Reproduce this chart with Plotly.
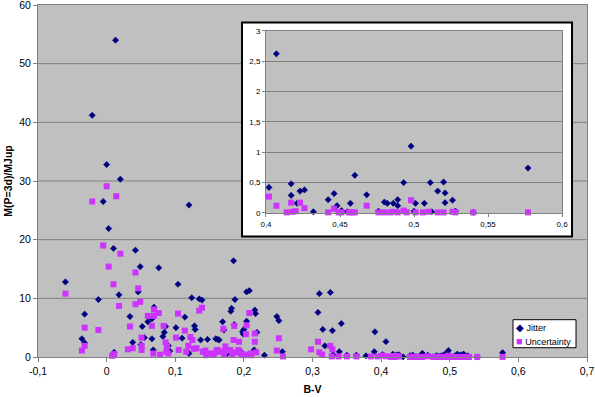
import plotly.graph_objects as go

# ---------------- data ----------------
bv_jitter = [0.013, -0.021, 0.000, 0.020, -0.005, 0.120, 0.003, 0.010, 0.042, 0.049,
             0.076, 0.185, -0.060, 0.104, 0.046, 0.018, -0.012, 0.124, 0.135, 0.139,
             0.204, 0.208, 0.187, 0.310, 0.326, 0.069, 0.182, 0.181, 0.216, 0.217,
             0.308, -0.032, 0.034, 0.114, 0.066, 0.248, 0.251, 0.060, 0.169, 0.204,
             0.342, 0.186, 0.052, 0.086, 0.101, 0.128, 0.129, 0.171, 0.200, 0.315,
             0.329, 0.391, 0.084, 0.198, 0.219, 0.082, 0.055, 0.110, -0.036, 0.066,
             0.147, 0.159, 0.162, 0.164, 0.137, 0.199, -0.032, 0.038, 0.050, 0.090,
             0.318, 0.068, 0.011, 0.256, 0.339, 0.390, 0.145, 0.175, 0.195, 0.215,
             0.230, 0.330, 0.350, 0.364, 0.378, 0.092, 0.120,
             0.407, 0.498, 0.577, 0.460, 0.402, 0.417, 0.493, 0.511, 0.520, 0.417,
             0.423, 0.426, 0.446, 0.442, 0.468, 0.457, 0.448, 0.421, 0.480, 0.482,
             0.486, 0.489, 0.489, 0.501, 0.516, 0.521, 0.507, 0.521, 0.526, 0.451,
             0.500, 0.528, 0.540, 0.432, 0.455, 0.476, 0.512]
m_jitter = [54.0, 41.2, 32.8, 30.3, 26.5, 25.9, 21.9, 18.5, 18.2, 15.4,
            15.2, 16.4, 12.8, 12.4, 11.1, 10.6, 9.8, 10.1, 9.9, 9.7,
            11.1, 11.3, 9.8, 10.8, 11.0, 8.5, 8.3, 7.8, 8.0, 7.4,
            7.6, 7.3, 6.9, 6.8, 6.5, 6.9, 6.2, 6.0, 6.0, 6.1,
            5.7, 5.5, 5.2, 5.2, 5.0, 5.3, 4.7, 4.6, 4.7, 4.7,
            4.5, 4.3, 4.2, 4.3, 4.2, 3.5, 3.3, 3.2, 3.1, 3.1,
            3.0, 3.1, 3.0, 2.9, 2.9, 3.9, 2.4, 2.5, 2.1, 1.9,
            1.9, 1.2, 0.8, 0.9, 0.9, 0.9, 0.8, 0.5, 1.0, 1.2,
            0.3, 0.4, 0.3, 0.3, 0.2, 1.0, 0.6,
            2.62, 1.10, 0.74, 0.62, 0.42, 0.48, 0.50, 0.50, 0.51, 0.29,
            0.36, 0.38, 0.32, 0.22, 0.30, 0.16, 0.12, 0.16, 0.18, 0.16,
            0.16, 0.22, 0.12, 0.16, 0.36, 0.33, 0.16, 0.17, 0.21, 0.04,
            0.03, 0.03, 0.01, 0.02, 0.02, 0.03, 0.02]

bv_unc = [0.000, 0.014, -0.021, -0.005, 0.020, 0.003, 0.042, 0.010, 0.046, -0.060,
          0.049, 0.042, 0.018, 0.069, 0.135, 0.139, 0.076, 0.104, 0.208, 0.060,
          0.069, 0.034, 0.066, 0.083, 0.186, 0.204, -0.032, 0.170, -0.012, 0.114,
          0.216, 0.203, 0.122, 0.051, 0.101, 0.251, 0.125, 0.185, 0.086, 0.193,
          0.216, 0.308, -0.032, 0.051, 0.088, 0.119, 0.173, 0.326, 0.038, 0.131,
          0.127, 0.031, 0.298, 0.329, -0.036, 0.051, 0.105, 0.144, 0.160, 0.162,
          0.180, 0.192, 0.248, 0.116, 0.173, 0.310, 0.068, 0.090, 0.011, 0.186,
          0.194, 0.008, 0.145, 0.203, 0.210, 0.218, 0.314, 0.257, 0.328, 0.338,
          0.350, 0.364, 0.385, 0.395, 0.155, 0.165, 0.078, 0.087, 0.150, 0.200,
          0.197, 0.183, 0.171, 0.157, 0.140, 0.211,
          0.402, 0.407, 0.417, 0.423, 0.426, 0.420, 0.468, 0.498, 0.446, 0.442,
          0.449, 0.451, 0.456, 0.458, 0.460, 0.476, 0.480, 0.484, 0.486, 0.489,
          0.493, 0.495, 0.501, 0.506, 0.510, 0.516, 0.520, 0.526, 0.528, 0.540,
          0.577, 0.414, 0.418]
m_unc = [29.1, 27.4, 26.5, 19.0, 17.6, 15.4, 14.4, 12.4, 11.7, 10.8,
         9.4, 9.0, 8.7, 8.1, 7.9, 8.4, 7.5, 7.4, 7.5, 7.0,
         7.0, 5.2, 5.3, 5.3, 5.3, 5.4, 5.0, 4.8, 4.6, 4.5,
         4.0, 3.9, 3.4, 3.3, 3.3, 3.2, 2.9, 2.9, 2.5, 2.6,
         2.6, 2.6, 1.9, 1.9, 1.8, 1.9, 1.8, 1.9, 1.5, 1.5,
         1.4, 1.3, 1.3, 1.3, 1.1, 1.2, 1.2, 1.1, 1.1, 1.2,
         1.2, 1.2, 1.1, 0.9, 1.0, 0.8, 0.6, 0.6, 0.5, 0.8,
         0.7, 0.2, 0.3, 0.4, 0.6, 0.8, 0.4, 0.1, 0.1, 0.1,
         0.1, 0.1, 0.1, 0.1, 0.5, 0.9, 0.4, 0.9, 0.6, 0.3,
         0.4, 0.4, 0.4, 0.6, 0.9, 0.3,
         0.27, 0.12, 0.17, 0.17, 0.08, 0.03, 0.12, 0.21, 0.07, 0.01,
         0.01, 0.01, 0.01, 0.01, 0.01, 0.01, 0.01, 0.01, 0.02, 0.01,
         0.04, 0.01, 0.01, 0.01, 0.02, 0.01, 0.01, 0.02, 0.01, 0.01,
         0.01, 0.01, 0.02]

series_names = ["Jitter", "Uncertainty"]
x_tick_vals = [-0.1, 0.0, 0.1, 0.2, 0.3, 0.4, 0.5, 0.6, 0.7]
x_tick_text = ["-0,1", "0", "0,1", "0,2", "0,3", "0,4", "0,5", "0,6", "0,7"]
y_tick_vals = [0, 10, 20, 30, 40, 50, 60]
inset_x_vals = [0.4, 0.45, 0.5, 0.55, 0.6]
inset_x_text = ["0,4", "0,45", "0,5", "0,55", "0,6"]
inset_y_vals = [0, 0.5, 1, 1.5, 2, 2.5, 3]
inset_y_text = ["0", "0,5", "1", "1,5", "2", "2,5", "3"]
inset_x_range = [0.4, 0.6]
inset_y_range = [0, 3]

JIT_COLOR = "#000080"
UNC_COLOR = "#CC33FF"
FONT = "Liberation Sans, Arial, sans-serif"
GRID = "#808080"


def in_inset(xs, ys):
    pts = [(a, b) for a, b in zip(xs, ys)
           if inset_x_range[0] <= a <= inset_x_range[1] and inset_y_range[0] <= b <= inset_y_range[1]]
    return [p[0] for p in pts], [p[1] for p in pts]


fig = go.Figure()

jit_marker = dict(symbol="diamond", size=4.8, color=JIT_COLOR, line=dict(width=0.6, color=JIT_COLOR))
unc_marker = dict(symbol="square", size=6, color=UNC_COLOR, line=dict(width=0))

# main chart
fig.add_trace(go.Scatter(x=bv_jitter, y=m_jitter, mode="markers", name=series_names[0],
                         marker=jit_marker, cliponaxis=False, xaxis="x", yaxis="y"))
fig.add_trace(go.Scatter(x=bv_unc, y=m_unc, mode="markers", name=series_names[1],
                         marker=unc_marker, cliponaxis=False, xaxis="x", yaxis="y"))

# inset (zoom on 0.4-0.6)
ix, iy = in_inset(bv_jitter, m_jitter)
fig.add_trace(go.Scatter(x=ix, y=iy, mode="markers", name=series_names[0],
                         marker=jit_marker, cliponaxis=False, xaxis="x2", yaxis="y2"))
ux, uy = in_inset(bv_unc, m_unc)
fig.add_trace(go.Scatter(x=ux, y=uy, mode="markers", name=series_names[1],
                         marker=unc_marker, cliponaxis=False, xaxis="x2", yaxis="y2"))

# main horizontal gridlines (as lower shapes so the inset frame can cover them)
shapes = []
for v in y_tick_vals[1:-1]:
    shapes.append(dict(type="line", xref="paper", yref="y", x0=0, x1=1, y0=v, y1=v,
                       line=dict(color=GRID, width=1), layer="below"))
# inset white frame
shapes.append(dict(type="rect", xref="paper", yref="paper",
                   x0=0.3716, x1=0.9727, y0=0.3426, y1=0.9506,
                   fillcolor="white", line=dict(color="black", width=2), layer="below"))
# legend box
shapes.append(dict(type="rect", xref="paper", yref="paper",
                   x0=0.8652, x1=0.980, y0=0.0264, y1=0.106,
                   fillcolor="white", line=dict(color="black", width=1), layer="above"))

annotations = [
    dict(xref="paper", yref="paper", x=0.8670, y=0.0840, xanchor="left", yanchor="middle",
         showarrow=False, font=dict(size=9, family=FONT, color="black"),
         text=f"<span style='color:{JIT_COLOR};font-size:10px'>◆</span> {series_names[0]}"),
    dict(xref="paper", yref="paper", x=0.8670, y=0.0450, xanchor="left", yanchor="middle",
         showarrow=False, font=dict(size=9, family=FONT, color="black"),
         text=f"<span style='color:{UNC_COLOR};font-size:11px'>■</span> {series_names[1]}"),
]

axis_common = dict(showline=True, mirror=True, linecolor=GRID, linewidth=1,
                   ticks="outside", tickcolor=GRID, zeroline=False, automargin=False,
                   ticklabeloverflow="allow")

fig.update_layout(
    width=595, height=397,
    margin=dict(l=38, r=8, t=5, b=40, autoexpand=False),
    paper_bgcolor="white",
    plot_bgcolor="#C0C0C0",
    font=dict(family=FONT, color="black", size=10),
    shapes=shapes,
    annotations=annotations,
    showlegend=False,
    xaxis=dict(domain=[0, 1], range=[-0.1, 0.7], tickvals=x_tick_vals, ticktext=x_tick_text,
               showgrid=False, ticklen=4, tickfont=dict(size=10.5),
               title=dict(text="<b>B-V</b>", font=dict(size=10.5), standoff=10),
               **axis_common),
    yaxis=dict(domain=[0, 1], range=[0, 60], tickvals=y_tick_vals,
               showgrid=False, ticklen=4, tickfont=dict(size=10.5),
               title=dict(text="<b>M(P=3d)/MJup</b>", font=dict(size=10.5), standoff=4),
               **axis_common),
    xaxis2=dict(domain=[0.4153, 0.9545], anchor="y2", range=inset_x_range,
                tickvals=inset_x_vals, ticktext=inset_x_text, showgrid=False,
                ticklen=3, tickfont=dict(size=8), **axis_common),
    yaxis2=dict(domain=[0.4091, 0.927], anchor="x2", range=inset_y_range,
                tickvals=inset_y_vals, ticktext=inset_y_text, showgrid=True,
                gridcolor=GRID, gridwidth=1, ticklen=3, tickfont=dict(size=8),
                **axis_common),
)

fig.write_html("out.html", config={"displayModeBar": False},
               post_script="document.body.style.margin='0';")
